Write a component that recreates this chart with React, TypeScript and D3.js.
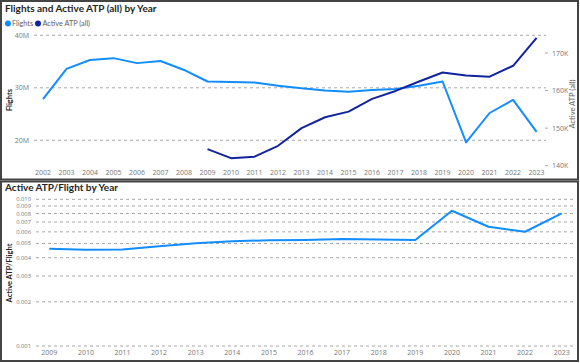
import React from "react";
import * as d3 from "d3";

const years = [2002, 2003, 2004, 2005, 2006, 2007, 2008, 2009, 2010, 2011, 2012, 2013, 2014, 2015, 2016, 2017, 2018, 2019, 2020, 2021, 2022, 2023];
const flights = [27.85, 33.6, 35.3, 35.65, 34.7, 35.1, 33.4, 31.2, 31.1, 31.0, 30.4, 29.9, 29.5, 29.25, 29.6, 29.75, 30.4, 31.2, 19.6, 25.2, 27.7, 21.6];
const atpYears = [2009, 2010, 2011, 2012, 2013, 2014, 2015, 2016, 2017, 2018, 2019, 2020, 2021, 2022, 2023];
const activeAtp = [144.4, 142.0, 142.4, 145.3, 150.0, 152.9, 154.4, 157.8, 159.9, 162.4, 164.8, 164.0, 163.7, 166.6, 174.0];
const ratioYears = [2009, 2010, 2011, 2012, 2013, 2014, 2015, 2016, 2017, 2018, 2019, 2020, 2021, 2022, 2023];
const ratio = [0.0046, 0.00453, 0.00455, 0.00479, 0.00501, 0.00517, 0.00526, 0.00528, 0.00536, 0.00532, 0.00528, 0.00836, 0.0065, 0.00601, 0.00803];

const leftTicks = [20, 30, 40];
const rightTicks = [140, 150, 160, 170];
const logTicks = [0.001, 0.002, 0.003, 0.004, 0.005, 0.006, 0.007, 0.008, 0.009, 0.01];

const FONT = "'Open Sans', 'Noto Sans', sans-serif";
const TFONT = "Lato, 'Open Sans', sans-serif";
const LIGHT = "#118DFF";
const DARK = "#12239E";
const GRID = "#a8a8a8";
const LABEL = "#777";
const TITLE = "#252423";

export default function App() {
  const x1 = d3.scaleLinear().domain([2002, 2023]).range([43, 536.6]);
  const yL = d3.scaleLinear().domain([20, 40]).range([140.3, 35.3]);
  const yR = d3.scaleLinear().domain([140, 170]).range([165.7, 53]);
  const flightLine = d3.line<number>().x((_, i) => x1(years[i])).y((d) => yL(d));
  const atpLine = d3.line<number>().x((_, i) => x1(atpYears[i])).y((d) => yR(d));

  const x2 = d3.scaleLinear().domain([2009, 2023]).range([49.3, 561.7]);
  const yLog = d3.scaleLog().domain([0.001, 0.01]).range([346, 199.3]);
  const ratioLine = d3.line<number>().x((_, i) => x2(ratioYears[i])).y((d) => yLog(d));

  return (
    <svg width={580} height={363} style={{ position: "absolute", left: 0, top: 0, background: "#fff" }} fontFamily={FONT}>
      <rect x={0} y={0} width={580} height={363} fill="#fff" />
      <rect x={1} y={1} width={577} height={178.5} fill="none" stroke="#444" strokeWidth={2} />
      <rect x={1} y={181.5} width={577} height={179.5} fill="none" stroke="#444" strokeWidth={2} />

      {/* ===== Top chart ===== */}
      <text x={5} y={11.5} fontSize={10} fontWeight={700} fill={TITLE} fontFamily={TFONT}>Flights and Active ATP (all) by Year</text>
      <circle cx={8} cy={23.5} r={3} fill={LIGHT} />
      <text x={12} y={26} fontSize={7.3} fill="#605E5C" fontFamily={TFONT}>Flights</text>
      <circle cx={38} cy={23.5} r={3} fill={DARK} />
      <text x={42.5} y={26} fontSize={7.3} fill="#605E5C" fontFamily={TFONT}>Active ATP (all)</text>

      {leftTicks.map((t) => (
        <g key={"lt" + t}>
          <line x1={34} x2={546} y1={yL(t)} y2={yL(t)} stroke={GRID} strokeWidth={1} strokeDasharray="3,3" />
          <text x={29} y={yL(t) + 2.5} fontSize={7} fill={LABEL} textAnchor="end">{t}M</text>
        </g>
      ))}
      {rightTicks.map((t) => (
        <g key={"rt" + t}>
          <line x1={545} x2={548} y1={yR(t)} y2={yR(t)} stroke={GRID} strokeWidth={1} />
          <text x={552} y={yR(t) + 2.5} fontSize={7} fill={LABEL}>{t}K</text>
        </g>
      ))}
      {years.map((yr) => (
        <text key={"x1" + yr} x={x1(yr)} y={175} fontSize={7} fill={LABEL} textAnchor="middle">{yr}</text>
      ))}
      <text transform="translate(12,100) rotate(-90)" fontSize={7.5} fontWeight={700} fill={TITLE} textAnchor="middle" fontFamily={TFONT}>Flights</text>
      <text transform="translate(575,104) rotate(-90)" fontSize={7.5} fill="#605E5C" textAnchor="middle" fontFamily={TFONT}>Active ATP (all)</text>

      <path d={flightLine(flights) || ""} fill="none" stroke={LIGHT} strokeWidth={2} strokeLinejoin="round" />
      <path d={atpLine(activeAtp) || ""} fill="none" stroke={DARK} strokeWidth={2} strokeLinejoin="round" />

      {/* ===== Bottom chart ===== */}
      <text x={5} y={191} fontSize={10} fontWeight={700} fill={TITLE} fontFamily={TFONT}>Active ATP/Flight by Year</text>
      {logTicks.map((t) => (
        <g key={"lg" + t}>
          <line x1={36} x2={576} y1={yLog(t)} y2={yLog(t)} stroke={GRID} strokeWidth={1} strokeDasharray="3,3" />
          <text x={31} y={yLog(t) + 2} fontSize={5.8} fill={LABEL} textAnchor="end">{d3.format(".3f")(t)}</text>
        </g>
      ))}
      {ratioYears.map((yr) => (
        <text key={"x2" + yr} x={x2(yr)} y={355} fontSize={7} fill={LABEL} textAnchor="middle">{yr}</text>
      ))}
      <text transform="translate(12,273) rotate(-90)" fontSize={7.5} fontWeight={700} fill={TITLE} textAnchor="middle" fontFamily={TFONT}>Active ATP/Flight</text>
      <path d={ratioLine(ratio) || ""} fill="none" stroke={LIGHT} strokeWidth={2} strokeLinejoin="round" />
    </svg>
  );
}
